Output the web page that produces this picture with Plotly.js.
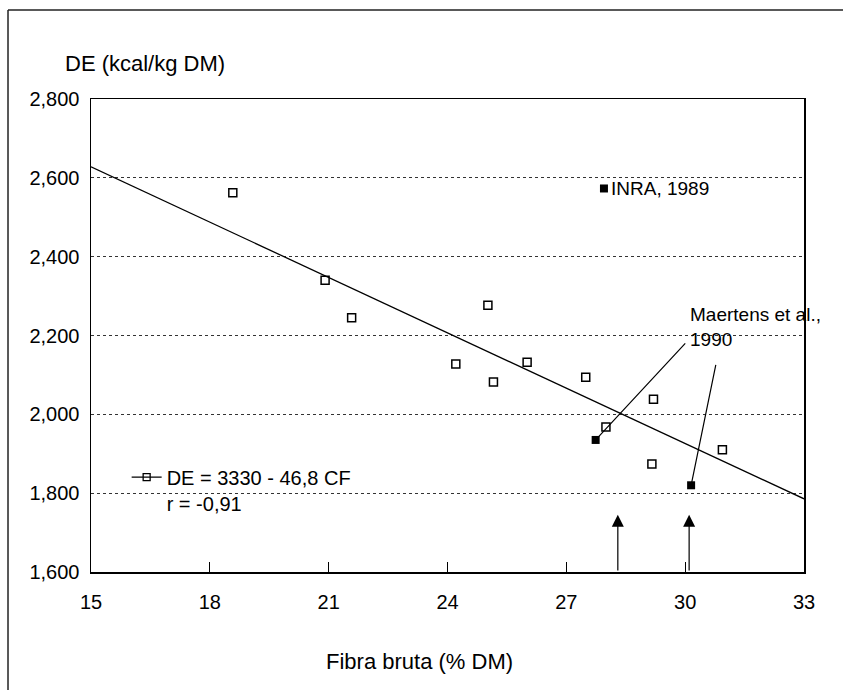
<!DOCTYPE html>
<html>
<head>
<meta charset="utf-8">
<script src="https://cdn.plot.ly/plotly-3.0.1.min.js"></script>
<style>html,body{margin:0;padding:0;background:#fff;}#chart{width:843px;height:690px;}</style>
</head>
<body>
<div id="chart"></div>
<script>
// Open squares: observed data
var fibre = [18.58, 20.91, 21.58, 24.21, 25.02, 25.16, 26.01, 27.49, 28.0, 29.20, 29.16, 30.94];
var de    = [2562, 2340, 2245, 2128, 2277, 2082, 2132, 2094, 1968, 2038, 1874, 1910];
// Filled squares: reference values
var inraX = [27.95];
var inraY = [2573];
var maertensX = [27.74, 30.15];
var maertensY = [1935, 1820];
// Regression: DE = 3330 - 46.8 CF
var regIntercept = 3330;
var regSlope = -46.8;
var regX = [15, 33];
var regY = regX.map(function (v) { return regIntercept + regSlope * v; });
// Arrows on the x axis
var arrowX = [28.3, 30.1];
var arrowBase = 1600;
var arrowTip = 1745;
var xTicks = [15, 18, 21, 24, 27, 30, 33];
var yTicks = [1600, 1800, 2000, 2200, 2400, 2600, 2800];

var FONT = '"Liberation Sans", Arial, Helvetica, sans-serif';

var traces = [
  {x: regX, y: regY, mode: 'lines', line: {color: '#000', width: 1.3}, showlegend: false, hoverinfo: 'skip'},
  {x: fibre, y: de, mode: 'markers', showlegend: false,
   marker: {symbol: 'square-open', size: 8, color: '#000', line: {width: 1.5, color: '#000'}}},
  {x: inraX, y: inraY, mode: 'markers', showlegend: false,
   marker: {symbol: 'square', size: 8, color: '#000'}},
  {x: maertensX, y: maertensY, mode: 'markers', showlegend: false,
   marker: {symbol: 'square', size: 8, color: '#000'}},
  {x: [null], y: [null], mode: 'lines+markers', name: 'DE = 3330 - 46,8 CF<br>r = -0,91',
   line: {color: '#000', width: 1.2},
   marker: {symbol: 'square-open', size: 7, color: '#000', line: {width: 1.3, color: '#000'}}}
];

var annotations = [
  {xref: 'paper', yref: 'paper', x: -0.0393, y: 1.074, xanchor: 'left', yanchor: 'middle',
   text: 'DE (kcal/kg DM)', showarrow: false, font: {size: 22, color: '#000', family: FONT}},
  {xref: 'paper', yref: 'paper', x: 0.4614, y: -0.19, xanchor: 'center', yanchor: 'middle',
   text: 'Fibra bruta (% DM)', showarrow: false, font: {size: 22, color: '#000', family: FONT}},
  {xref: 'x', yref: 'y', x: inraX[0], y: inraY[0], xanchor: 'left', yanchor: 'middle', xshift: 5,
   text: 'INRA, 1989', showarrow: false, font: {size: 19, color: '#000', family: FONT}},
  {xref: 'paper', yref: 'paper', x: 0.838, y: 0.571, xanchor: 'left', yanchor: 'top', align: 'left',
   text: 'Maertens et al.,<br>1990', showarrow: false, font: {size: 19, color: '#000', family: FONT}},
  {xref: 'x', yref: 'y', x: maertensX[0], y: maertensY[0], text: '', showarrow: true,
   arrowhead: 0, arrowwidth: 1.2, arrowcolor: '#000', ax: 91, ay: -98, standoff: 0},
  {xref: 'x', yref: 'y', x: maertensX[1], y: maertensY[1], text: '', showarrow: true,
   arrowhead: 0, arrowwidth: 1.2, arrowcolor: '#000', ax: 25, ay: -122, standoff: 0}
];
arrowX.forEach(function (ax) {
  annotations.push({xref: 'x', yref: 'y', x: ax, y: arrowTip, axref: 'x', ayref: 'y', ax: ax, ay: arrowBase,
    text: '', showarrow: true, arrowhead: 2, arrowsize: 2, arrowwidth: 1.2, arrowcolor: '#000', standoff: 0});
});

var layout = {
  width: 843, height: 690,
  margin: {l: 91, r: 39, t: 99, b: 118},
  paper_bgcolor: '#fff', plot_bgcolor: '#fff',
  font: {family: FONT, size: 20, color: '#000'},
  xaxis: {range: [15, 33], tickvals: xTicks, ticks: 'inside', ticklen: 10, tickwidth: 1.2, tickcolor: '#000',
    showline: true, mirror: true, linecolor: '#000', linewidth: 1.5, showgrid: false, zeroline: false,
    ticklabelstandoff: 11, tickfont: {size: 20, family: FONT, color: '#000'}},
  yaxis: {range: [1600, 2800], tickvals: yTicks, tickformat: ',', ticks: '',
    showline: true, mirror: true, linecolor: '#000', linewidth: 1.5,
    showgrid: true, gridcolor: '#333', griddash: 'dot', gridwidth: 1, zeroline: false,
    ticklabelstandoff: 6, tickfont: {size: 20, family: FONT, color: '#000'}},
  showlegend: true,
  legend: {x: 0.05, y: 0.242, xanchor: 'left', yanchor: 'top', bgcolor: 'rgba(0,0,0,0)',
    font: {size: 20, family: FONT, color: '#000'}, valign: 'top', itemwidth: 30, tracegroupgap: 0},
  annotations: annotations,
  shapes: [
    {type: 'line', xref: 'paper', yref: 'paper', x0: -0.1164, x1: -0.1164, y0: -0.2495, y1: 1.188,
     line: {color: '#222', width: 1.5}},
    {type: 'line', xref: 'paper', yref: 'paper', x0: -0.1164, x1: 1.0547, y0: 1.188, y1: 1.188,
     line: {color: '#222', width: 1.5}}
  ]
};

Plotly.newPlot('chart', traces, layout, {displayModeBar: false, staticPlot: true});
</script>
</body>
</html>
